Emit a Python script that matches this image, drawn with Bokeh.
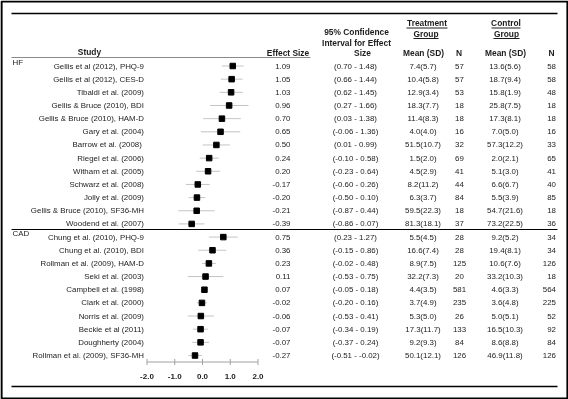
from bokeh.plotting import figure
from bokeh.models import Range1d, ColumnDataSource
from bokeh.embed import file_html
from bokeh.resources import INLINE
from bokeh.core.properties import value

# ---------------- data ----------------
studies = [
    "Gellis et al (2012), PHQ-9", "Gellis et al (2012), CES-D", "Tibaldi et al. (2009)",
    "Gellis & Bruce (2010), BDI", "Gellis & Bruce (2010), HAM-D", "Gary et al. (2004)",
    "Barrow et al.  (2008)", "Riegel et al. (2006)", "Witham et al. (2005)",
    "Schwarz et al. (2008)", "Jolly et al. (2009)", "Gellis & Bruce (2010), SF36-MH",
    "Woodend et al. (2007)",
    "Chung et al. (2010), PHQ-9", "Chung et al. (2010), BDI", "Rollman et al. (2009), HAM-D",
    "Seki et al. (2003)", "Campbell et al. (1998)", "Clark et al. (2000)",
    "Norris et al. (2009)", "Beckie et al (2011)", "Doughherty (2004)",
    "Rollman et al. (2009), SF36-MH",
]
groups = ["HF"] * 13 + ["CAD"] * 10
effect = [1.09, 1.05, 1.03, 0.96, 0.70, 0.65, 0.50, 0.24, 0.20, -0.17, -0.20, -0.21, -0.39,
          0.75, 0.36, 0.23, 0.11, 0.07, -0.02, -0.06, -0.07, -0.07, -0.27]
ci_low = [0.70, 0.66, 0.62, 0.27, 0.03, -0.06, 0.01, -0.10, -0.23, -0.60, -0.50, -0.87, -0.86,
          0.23, -0.15, -0.02, -0.53, -0.05, -0.20, -0.53, -0.34, -0.37, -0.51]
ci_high = [1.48, 1.44, 1.45, 1.66, 1.38, 1.36, 0.99, 0.58, 0.64, 0.26, 0.10, 0.44, 0.07,
           1.27, 0.86, 0.48, 0.75, 0.18, 0.16, 0.41, 0.19, 0.24, -0.02]
treat_mean = ["7.4(5.7)", "10.4(5.8)", "12.9(3.4)", "18.3(7.7)", "11.4(8.3)", "4.0(4.0)",
              "51.5(10.7)", "1.5(2.0)", "4.5(2.9)", "8.2(11.2)", "6.3(3.7)", "59.5(22.3)",
              "81.3(18.1)",
              "5.5(4.5)", "16.6(7.4)", "8.9(7.5)", "32.2(7.3)", "4.4(3.5)", "3.7(4.9)",
              "5.3(5.0)", "17.3(11.7)", "9.2(9.3)", "50.1(12.1)"]
treat_n = [57, 57, 53, 18, 18, 16, 32, 69, 41, 44, 84, 18, 37,
           28, 28, 125, 20, 581, 235, 26, 133, 84, 126]
ctrl_mean = ["13.6(5.6)", "18.7(9.4)", "15.8(1.9)", "25.8(7.5)", "17.3(8.1)", "7.0(5.0)",
             "57.3(12.2)", "2.0(2.1)", "5.1(3.0)", "6.6(6.7)", "5.5(3.9)", "54.7(21.6)",
             "73.2(22.5)",
             "9.2(5.2)", "19.4(8.1)", "10.6(7.6)", "33.2(10.3)", "4.6(3.3)", "3.6(4.8)",
             "5.0(5.1)", "16.5(10.3)", "8.6(8.8)", "46.9(11.8)"]
ctrl_n = [58, 58, 48, 18, 18, 16, 33, 65, 41, 40, 85, 18, 36,
          34, 34, 126, 18, 564, 225, 52, 92, 84, 126]
axis_ticks = [-2.0, -1.0, 0.0, 1.0, 2.0]
tick_labels = ["-2.0", "-1.0", "0.0", "1.0", "2.0"]

# ---------------- layout ----------------
W, H = 568, 399
ZERO_PX, UNIT_PX = 202.0, 27.75
ROW0, ROW_STEP = 65.5, 13.16
FONT = value("Liberation Sans")
FS_H = "8.4px"
FS = "7.9px"
TXT = "#1c1c1c"

rows = list(range(len(studies)))
src = ColumnDataSource(dict(
    row=rows, study=studies, effect=effect, lo=ci_low, hi=ci_high,
    eff_txt=["%.2f" % e for e in effect],
    ci_txt=["(%.2f - %.2f)" % (a, b) for a, b in zip(ci_low, ci_high)],
    tm=treat_mean, tn=[str(n) for n in treat_n],
    cm=ctrl_mean, cn=[str(n) for n in ctrl_n],
))

p = figure(width=W, height=H, output_backend="svg", toolbar_location=None,
           x_axis_type=None, y_axis_type=None, min_border=0,
           x_range=Range1d(-ZERO_PX / UNIT_PX, (W - ZERO_PX) / UNIT_PX),
           y_range=Range1d((H - ROW0) / ROW_STEP, -ROW0 / ROW_STEP),
           styles={"position": "fixed", "left": "0px", "top": "0px"})
p.grid.visible = False
p.outline_line_color = None
p.background_fill_color = "white"
p.border_fill_color = "white"
p.extra_x_ranges = {"px": Range1d(0, W)}
p.extra_y_ranges = {"py": Range1d(H, 0)}

PX = dict(x_range_name="px", y_range_name="py")

# frame border
p.quad(left=1, right=567, top=1, bottom=398, fill_color=None, line_color="black",
       line_width=2.2, **PX)
# rules
p.segment(x0=11, x1=557, y0=13, y1=13, line_color="black", line_width=1.5, **PX)
p.segment(x0=11, x1=310, y0=57, y1=57, line_color="#8a8a8a", line_width=1.2, **PX)
p.segment(x0=11, x1=557, y0=229, y1=229, line_color="black", line_width=1.2, **PX)
p.segment(x0=11, x1=557, y0=386, y1=386, line_color="black", line_width=1.5, **PX)

# header texts
def htxt(x, y, t, align="center", bold=True, fs=FS_H):
    p.text(x=[x], y=[y], text=[t], text_align=align, text_baseline="middle",
           text_font=FONT, text_font_size=fs, text_color=TXT,
           text_font_style="bold" if bold else "normal", **PX)

htxt(89, 51.5, "Study")
htxt(287.5, 52, "Effect Size")
htxt(356, 31.5, "95% Confidence")
htxt(356, 42, "Interval for Effect")
htxt(362, 52.5, "Size")
htxt(426.5, 22.5, "Treatment")
htxt(425.5, 33, "Group")
htxt(423, 52.5, "Mean (SD)")
htxt(458.5, 52.5, "N")
htxt(505.5, 22.5, "Control")
htxt(506, 33, "Group")
htxt(505, 52.5, "Mean (SD)")
htxt(551, 52.5, "N")
# underlines
for x0, x1, y in [(406, 447, 27.5), (413, 438, 38), (491, 520, 27.5), (493, 519, 38)]:
    p.segment(x0=x0, x1=x1, y0=y, y1=y, line_color=TXT, line_width=1, **PX)

# group labels
htxt(12, 61.5, "HF", align="left", bold=False, fs=FS)
htxt(12, 233, "CAD", align="left", bold=False, fs=FS)

# row texts
cols = [("study", 143.5, "right"), ("eff_txt", 290, "right"), ("ci_txt", 355, "center"),
        ("tm", 422.5, "center"), ("tn", 459, "center"), ("cm", 504.5, "center"),
        ("cn", 555.5, "right")]
for field, x, align in cols:
    p.text(x=x, y="row", text=field, source=src, x_range_name="px",
           text_align=align, text_baseline="middle", text_font=FONT,
           text_font_size=FS, text_color=TXT)

# forest plot
p.segment(x0="lo", x1="hi", y0="row", y1="row", source=src,
          line_color="#c4c4c4", line_width=1)
p.scatter(x="effect", y="row", source=src, marker="square", size=5.5,
          fill_color="black", line_color="black")

# forest x-axis
p.segment(x0=axis_ticks[0], x1=axis_ticks[-1], y0=361.5, y1=361.5,
          line_color="#a0a0a0", line_width=1, y_range_name="py")
p.segment(x0=axis_ticks, x1=axis_ticks, y0=[358.5] * len(axis_ticks),
          y1=[364.5] * len(axis_ticks), line_color="#a0a0a0", line_width=1,
          y_range_name="py")
p.text(x=axis_ticks, y=[376] * len(axis_ticks), text=tick_labels, y_range_name="py",
       text_align="center", text_baseline="middle", text_font=FONT,
       text_font_size="8px", text_font_style="bold", text_color=TXT)

open("out.html", "w").write(file_html(p, INLINE))
